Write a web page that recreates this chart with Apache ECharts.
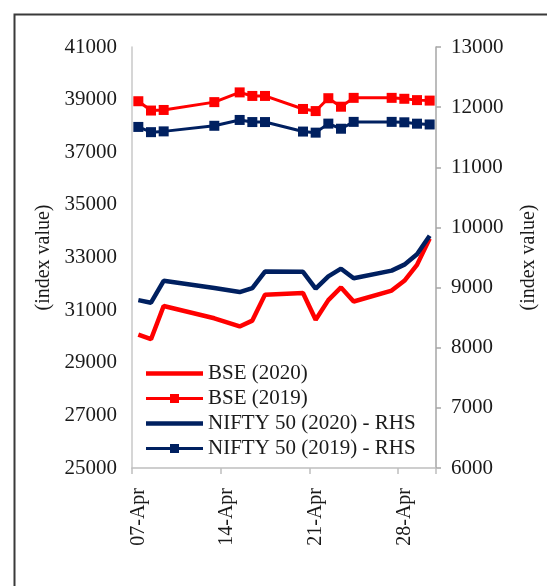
<!DOCTYPE html>
<html>
<head>
<meta charset="utf-8">
<script src="https://cdn.jsdelivr.net/npm/echarts@6/dist/echarts.min.js"></script>
<style>
html,body{margin:0;padding:0;background:#fff;}
#chart{width:547px;height:586px;}
</style>
</head>
<body>
<div id="chart"></div>
<script>
const dates = ['07-Apr','08-Apr','09-Apr','10-Apr','11-Apr','12-Apr','13-Apr','14-Apr','15-Apr','16-Apr','17-Apr','18-Apr','19-Apr','20-Apr','21-Apr','22-Apr','23-Apr','24-Apr','25-Apr','26-Apr','27-Apr','28-Apr','29-Apr','30-Apr'];
const bse2020 = [30067, 29894, 31159, null, null, null, 30690, null, 30380, 30602, 31589, null, null, 31648, 30636, 31380, 31863, 31327, null, null, 31743, 32115, 32720, 33718];
const bse2019 = [38939, 38585, 38607, null, null, null, 38905, null, 39275, 39140, 39140, null, null, 38645, 38565, 39054, 38731, 39067, null, null, 39067, 39032, 38981, 38963];
const nifty2020 = [8792, 8748, 9112, null, null, null, 8994, null, 8925, 8992, 9267, null, null, 9262, 8981, 9187, 9314, 9154, null, null, 9282, 9381, 9554, 9860];
const nifty2019 = [11671, 11584, 11597, null, null, null, 11690, null, 11787, 11752, 11752, null, null, 11594, 11576, 11726, 11641, 11755, null, null, 11755, 11748, 11725, 11712];
const leftTicks = {min: 25000, max: 41000, interval: 2000};
const rightTicks = {min: 6000, max: 13000, interval: 1000};

const FONT = 'Liberation Serif';
const RED = '#ff0000';
const NAVY = '#002060';
const plain = v => String(v);
const ICON_LINE = 'path://M0,0 L0,0 M0,9 L0,9 M0,2.2 L57,2.2 L57,6.8 L0,6.8 Z';
const ICON_MARK = 'path://M0,3 L24,3 L24,0 L33,0 L33,3 L57,3 L57,6 L33,6 L33,9 L24,9 L24,6 L0,6 Z';
const chart = echarts.init(document.getElementById('chart'));
chart.setOption({
  animation: false,
  backgroundColor: '#ffffff',
  textStyle: {fontFamily: FONT},
  graphic: [{
    type: 'rect', left: 12, top: 12, silent: true,
    shape: {width: 600, height: 640},
    style: {fill: 'none', stroke: '#3a3a3a', lineWidth: 2}
  }],
  grid: {left: 132, right: 101, top: 47, bottom: 118, containLabel: false},
  legend: {
    left: 141, top: 358, orient: 'vertical',
    itemWidth: 57, itemHeight: 9, itemGap: 4,
    textStyle: {fontFamily: FONT, fontSize: 21, color: '#1a1a1a'},
    data: [
      {name: 'BSE (2020)', icon: ICON_LINE, itemStyle: {color: RED}},
      {name: 'BSE (2019)', icon: ICON_MARK, itemStyle: {color: RED}},
      {name: 'NIFTY 50 (2020) - RHS', icon: ICON_LINE, itemStyle: {color: NAVY}},
      {name: 'NIFTY 50 (2019) - RHS', icon: ICON_MARK, itemStyle: {color: NAVY}}
    ]
  },
  xAxis: {
    type: 'category', data: dates, boundaryGap: true,
    axisLine: {lineStyle: {color: '#bfbfbf', width: 1.5}},
    axisTick: {show: true, interval: 6, length: 6, lineStyle: {color: '#bfbfbf', width: 1.5}},
    axisLabel: {interval: 6, rotate: 90, margin: 20, fontFamily: FONT, fontSize: 20, color: '#1a1a1a'},
    splitLine: {show: false}
  },
  yAxis: [{
    type: 'value', position: 'left', min: leftTicks.min, max: leftTicks.max, interval: leftTicks.interval,
    name: '(index value)', nameLocation: 'middle', nameRotate: 90, nameGap: 78,
    nameTextStyle: {fontFamily: FONT, fontSize: 20, color: '#1a1a1a'},
    axisLine: {show: true, lineStyle: {color: '#c8c8c8', width: 1.5}},
    axisTick: {show: false},
    axisLabel: {margin: 15, formatter: plain, fontFamily: FONT, fontSize: 21, color: '#1a1a1a'},
    splitLine: {show: false}
  }, {
    type: 'value', position: 'right', min: rightTicks.min, max: rightTicks.max, interval: rightTicks.interval,
    name: '(index value)', nameLocation: 'middle', nameRotate: 90, nameGap: 83,
    nameTextStyle: {fontFamily: FONT, fontSize: 20, color: '#1a1a1a'},
    axisLine: {show: true, lineStyle: {color: '#a6a6a6', width: 1.5}},
    axisTick: {show: true, inside: false, length: 5, lineStyle: {color: '#a6a6a6', width: 1.5}},
    axisLabel: {margin: 15, formatter: plain, fontFamily: FONT, fontSize: 21, color: '#1a1a1a'},
    splitLine: {show: false}
  }],
  series: [{
    name: 'BSE (2020)', type: 'line', yAxisIndex: 0, data: bse2020, connectNulls: true,
    symbol: 'none', lineStyle: {color: RED, width: 4.5}, itemStyle: {color: RED}
  }, {
    name: 'BSE (2019)', type: 'line', yAxisIndex: 0, data: bse2019, connectNulls: true,
    symbol: 'rect', symbolSize: 10, showSymbol: true, showAllSymbol: true,
    lineStyle: {color: RED, width: 3}, itemStyle: {color: RED}
  }, {
    name: 'NIFTY 50 (2020) - RHS', type: 'line', yAxisIndex: 1, data: nifty2020, connectNulls: true,
    symbol: 'none', lineStyle: {color: NAVY, width: 4.5}, itemStyle: {color: NAVY}
  }, {
    name: 'NIFTY 50 (2019) - RHS', type: 'line', yAxisIndex: 1, data: nifty2019, connectNulls: true,
    symbol: 'rect', symbolSize: 10, showSymbol: true, showAllSymbol: true,
    lineStyle: {color: NAVY, width: 3}, itemStyle: {color: NAVY}
  }]
});
</script>
</body>
</html>
